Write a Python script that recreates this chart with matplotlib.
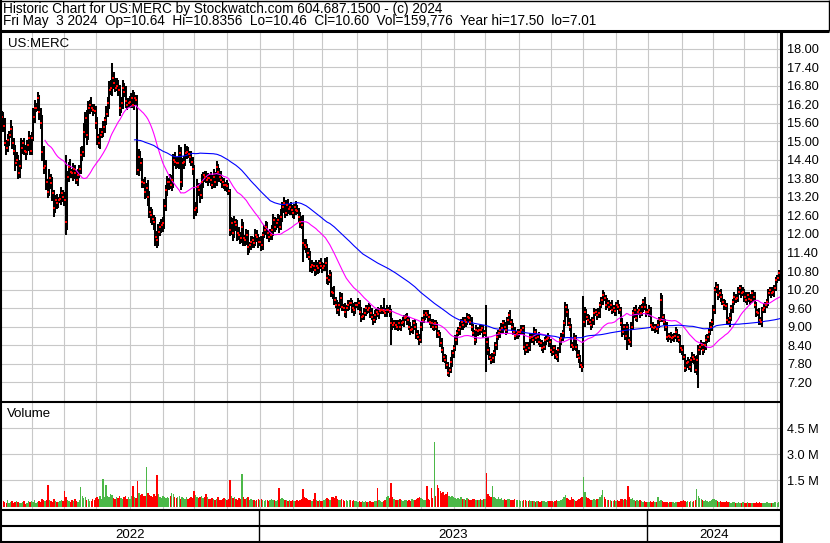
import matplotlib
matplotlib.use("Agg")
import matplotlib.pyplot as plt
import numpy as np
import pandas as pd

plt.rcParams["font.family"] = ["Liberation Sans", "DejaVu Sans"]

# daily closes, one line per month, 2022-05-04 .. 2024-05-03
closes = [
    15.80, 15.50, 14.95, 14.80, 15.05, 15.20, 15.40, 14.95, 14.70, 14.30, 14.40, 13.98, 14.20, 14.80, 14.95, 14.70, 14.66, 14.90, 15.10, 14.70,
    15.10, 15.80, 16.10, 16.10, 16.40, 15.95, 15.60, 14.66, 14.14, 14.20, 13.68, 13.37, 13.80, 13.65, 13.33, 12.84, 13.10, 13.00, 13.10, 13.15, 13.33, 13.20,
    13.10, 12.39, 13.85, 14.17, 14.00, 13.98, 14.10, 13.98, 13.76, 13.90, 14.10, 14.56, 14.66, 15.30, 15.76, 15.20, 16.10, 16.18, 16.10, 16.02, 16.00,
    15.60, 15.15, 14.95, 15.20, 15.30, 15.47, 15.70, 15.90, 16.25, 16.67, 16.74, 17.06, 16.90, 16.74, 16.80, 16.67, 16.09, 16.25, 16.74, 16.60, 16.30, 16.18, 16.25,
    16.28, 16.41, 16.18, 16.40, 16.35, 14.08, 14.50, 14.30, 13.68, 13.65, 13.37, 13.50, 13.20, 12.72, 12.60, 12.50, 12.39, 11.90, 11.80, 12.07, 12.23, 12.30,
    12.36, 12.90, 13.43, 13.68, 13.70, 13.60, 13.75, 14.40, 14.35, 14.30, 14.30, 14.63, 13.68, 14.30, 14.34, 14.63, 14.66, 14.60, 14.50, 14.34, 14.10,
    12.78, 12.84, 13.52, 13.43, 13.27, 13.68, 13.90, 13.85, 13.76, 13.82, 13.80, 13.76, 13.60, 13.85, 13.70, 14.17, 14.00, 13.85, 13.76, 13.68, 13.60, 13.60,
    13.55, 13.40, 12.13, 12.36, 12.03, 12.39, 12.30, 12.03, 11.97, 11.87, 12.23, 11.87, 11.80, 11.97, 11.58, 11.64, 11.75, 11.80, 11.70, 11.97, 11.90, 11.75,
    11.75, 11.64, 11.97, 12.13, 12.23, 12.03, 11.90, 11.97, 12.13, 12.45, 12.23, 12.36, 12.45, 12.23, 12.55, 12.88, 13.00, 12.68, 12.94, 12.80, 12.88, 12.78,
    12.68, 12.88, 12.78, 12.75, 12.55, 12.39, 12.30, 11.70, 11.64, 11.58, 11.38, 11.26, 10.93, 11.00, 10.95, 10.83, 10.95, 10.90, 11.06, 10.95,
    10.90, 10.95, 11.06, 10.57, 10.51, 10.67, 10.12, 10.10, 9.86, 9.70, 9.54, 9.70, 9.93, 9.64, 9.60, 9.47, 9.60, 9.70, 9.77, 9.75, 9.60, 9.54, 9.70,
    9.70, 9.77, 9.47, 9.31, 9.35, 9.44, 9.60, 9.55, 9.60, 9.44, 9.31, 9.21, 9.37, 9.47, 9.40, 9.50, 9.54, 9.54, 9.50, 9.45,
    9.54, 9.54, 9.47, 9.12, 9.05, 9.10, 9.05, 9.00, 9.10, 8.99, 9.12, 9.15, 9.28, 9.30, 9.20, 9.00, 8.89, 8.92, 9.10, 9.00, 8.75, 8.66, 8.56,
    8.99, 9.21, 9.37, 9.44, 9.37, 9.30, 9.15, 9.10, 8.99, 9.12, 8.99, 8.79, 8.72, 8.47, 8.24, 8.00, 7.92, 7.76, 7.50, 7.60, 7.85, 8.14,
    8.30, 8.56, 8.79, 8.89, 8.99, 9.15, 9.05, 9.21, 9.15, 9.30, 9.28, 9.15, 8.99, 8.79, 8.56, 8.89, 8.85, 8.90, 8.89, 8.95, 8.79,
    8.79, 8.50, 8.24, 8.01, 7.92, 7.98, 8.14, 8.40, 8.66, 8.79, 8.89, 8.95, 9.12, 9.00, 8.89, 9.21, 9.37, 9.15, 9.00, 8.82, 8.70, 8.75, 8.82,
    8.82, 8.89, 8.95, 8.34, 8.24, 8.40, 8.30, 8.63, 8.66, 8.56, 8.82, 8.63, 8.66, 8.50, 8.47, 8.30, 8.34, 8.56, 8.60, 8.63, 8.50,
    8.24, 8.18, 8.30, 8.08, 8.01, 8.24, 8.56, 8.63, 8.79, 9.12, 9.63, 9.47, 9.12, 8.99, 8.40, 8.34, 8.63, 8.34, 8.08, 7.98, 7.75, 7.69,
    9.15, 9.47, 9.31, 9.21, 9.15, 9.05, 9.21, 9.44, 9.47, 9.37, 9.44, 9.70, 9.86, 10.02, 9.93, 9.70, 9.77, 9.64, 9.70, 9.54, 9.60, 9.50,
    9.70, 9.63, 9.54, 9.12, 8.82, 8.99, 8.70, 8.99, 8.56, 8.50, 8.99, 9.44, 9.54, 9.28, 9.47, 9.54, 9.44, 9.63, 9.80, 9.63, 9.47,
    9.47, 9.54, 9.05, 9.00, 8.95, 8.99, 8.92, 9.05, 9.20, 9.86, 9.30, 9.15, 8.99, 8.66, 8.70, 8.66, 8.63, 8.66, 8.70, 8.82, 8.66, 8.56, 8.30,
    8.24, 8.01, 7.66, 7.82, 7.85, 7.69, 7.92, 8.01, 7.95, 7.59, 7.92, 8.24, 8.34, 8.40, 8.24, 8.40, 8.56, 8.66, 8.82, 8.99, 9.15,
    9.54, 10.18, 10.28, 10.02, 10.08, 9.96, 9.80, 9.70, 9.65, 9.21, 9.15, 9.28, 9.60, 9.80, 9.96, 9.90, 9.93, 10.12, 10.25, 10.08, 10.12,
    9.96, 9.86, 10.02, 9.90, 9.86, 10.08, 9.96, 9.70, 9.47, 9.44, 9.21, 9.15, 9.54, 9.60, 9.70, 9.80, 10.08, 10.18, 10.08, 10.12, 10.25, 10.51,
    10.57, 10.75, 10.60,
]

# how far (cents) each bar reaches above max(open, close) and below min(open, close)
wick_up = [
    20, 15, 25, 10, 20, 15, 30, 10, 15, 20, 25, 15, 20, 30, 10, 15, 20, 15, 25, 10,
    20, 30, 25, 15, 20, 10, 15, 25, 20, 15, 20, 10, 30, 15, 20, 10, 15, 20, 10, 15, 20, 10,
    15, 146, 20, 15, 25, 10, 20, 15, 10, 20, 15, 25, 20, 30, 20, 25, 20, 15, 25, 10, 20,
    15, 20, 10, 25, 15, 20, 10, 25, 20, 30, 25, 49, 20, 15, 25, 20, 15, 20, 25, 15, 20, 10, 15,
    20, 15, 25, 20, 10, 15, 25, 20, 15, 10, 20, 15, 25, 20, 15, 20, 10, 15, 20, 25, 15, 20,
    20, 25, 15, 20, 10, 25, 15, 20, 25, 15, 20, 25, 20, 15, 20, 30, 20, 15, 10, 20, 15,
    15, 20, 25, 15, 20, 25, 10, 15, 20, 15, 10, 20, 15, 25, 15, 20, 10, 15, 20, 10, 15, 10,
    15, 10, 5, 20, 15, 20, 10, 15, 20, 10, 25, 15, 10, 20, 15, 10, 20, 15, 10, 20, 15, 10,
    15, 20, 10, 15, 20, 15, 10, 20, 15, 20, 10, 15, 20, 15, 25, 15, 20, 10, 15, 20, 10, 15,
    15, 10, 20, 15, 10, 15, 20, 30, 15, 20, 10, 15, 20, 15, 10, 15, 20, 15, 10, 15,
    15, 10, 15, 20, 10, 15, 10, 15, 20, 10, 15, 10, 20, 15, 10, 15, 10, 15, 10, 15, 10, 15, 10,
    10, 15, 10, 15, 10, 15, 10, 10, 15, 10, 15, 10, 15, 10, 15, 10, 15, 10, 40, 10,
    15, 10, 15, 10, 15, 10, 10, 15, 10, 15, 10, 15, 10, 10, 15, 10, 15, 10, 10, 15, 10, 15, 10,
    15, 10, 15, 10, 10, 15, 10, 10, 15, 10, 10, 15, 10, 10, 15, 10, 10, 15, 10, 10, 15, 10,
    10, 15, 10, 10, 15, 10, 15, 10, 10, 15, 10, 10, 15, 10, 10, 15, 10, 10, 15, 10, 10,
    10, 91, 15, 10, 10, 15, 10, 10, 15, 10, 10, 15, 10, 10, 15, 10, 10, 15, 10, 10, 15, 10, 10,
    10, 15, 10, 10, 15, 10, 10, 15, 10, 10, 15, 10, 10, 15, 10, 10, 15, 10, 10, 15, 10,
    10, 15, 10, 10, 15, 10, 10, 15, 10, 10, 15, 10, 10, 15, 10, 10, 15, 10, 10, 15, 10, 10,
    85, 15, 10, 10, 15, 10, 10, 15, 10, 10, 15, 10, 10, 15, 10, 10, 15, 10, 10, 15, 10, 10,
    10, 15, 10, 10, 15, 10, 10, 15, 10, 10, 15, 10, 10, 15, 10, 10, 15, 10, 10, 15, 10,
    10, 15, 10, 10, 15, 10, 10, 15, 10, 24, 15, 10, 10, 15, 10, 10, 15, 10, 10, 15, 10, 10, 15,
    10, 15, 10, 10, 15, 10, 10, 15, 10, 10, 15, 16, 10, 15, 10, 10, 15, 10, 10, 15, 10,
    15, 10, 15, 10, 10, 15, 10, 10, 15, 10, 10, 15, 10, 10, 15, 10, 10, 15, 10, 10, 15,
    10, 15, 10, 10, 15, 10, 10, 15, 10, 10, 15, 10, 10, 15, 10, 10, 15, 10, 10, 15, 10, 10,
    10, 8, 8,
]
wick_dn = [
    15, 20, 10, 25, 15, 20, 10, 20, 15, 25, 10, 20, 15, 10, 20, 15, 25, 10, 20, 15,
    15, 10, 20, 15, 10, 25, 20, 30, 20, 15, 25, 20, 15, 20, 25, 30, 15, 20, 15, 10, 20, 15,
    20, 42, 25, 15, 20, 15, 25, 20, 15, 20, 10, 15, 20, 15, 20, 30, 15, 20, 15, 20, 10,
    20, 25, 15, 20, 10, 15, 20, 15, 10, 20, 15, 25, 20, 15, 10, 20, 25, 15, 20, 15, 20, 15, 10,
    15, 20, 10, 15, 20, 18, 20, 25, 20, 15, 25, 20, 30, 20, 25, 20, 25, 30, 25, 20, 15, 20,
    25, 20, 15, 20, 25, 15, 20, 25, 15, 20, 15, 20, 25, 15, 20, 15, 20, 15, 20, 15, 20,
    30, 20, 15, 20, 25, 15, 20, 15, 10, 20, 15, 20, 15, 10, 20, 15, 20, 15, 10, 20, 15, 20,
    20, 15, 20, 15, 25, 15, 20, 25, 15, 20, 15, 25, 20, 15, 25, 20, 15, 20, 15, 10, 15, 20,
    15, 20, 15, 10, 15, 20, 15, 10, 15, 20, 15, 10, 15, 20, 10, 15, 20, 15, 10, 15, 20, 15,
    15, 20, 15, 10, 15, 20, 15, 60, 15, 20, 15, 10, 15, 20, 15, 20, 15, 20, 15, 10,
    15, 10, 15, 20, 15, 10, 15, 20, 15, 10, 15, 20, 10, 15, 10, 15, 20, 10, 15, 10, 15, 20, 15,
    10, 15, 10, 15, 10, 15, 10, 15, 10, 15, 10, 15, 10, 15, 10, 15, 10, 15, 10, 15,
    15, 10, 15, 72, 15, 10, 15, 10, 15, 10, 15, 10, 15, 10, 15, 10, 15, 10, 15, 10, 15, 10, 15,
    10, 15, 10, 15, 10, 15, 10, 15, 10, 15, 10, 15, 10, 15, 10, 15, 10, 15, 10, 15, 10, 15,
    15, 10, 15, 10, 15, 10, 15, 10, 15, 10, 15, 10, 15, 10, 15, 10, 15, 10, 15, 10, 15,
    10, 97, 15, 10, 15, 10, 15, 10, 15, 10, 15, 10, 15, 10, 15, 10, 15, 10, 15, 10, 15, 10, 15,
    15, 10, 15, 10, 15, 10, 15, 10, 15, 10, 15, 10, 15, 10, 15, 10, 15, 10, 15, 10, 15,
    10, 15, 10, 15, 10, 15, 10, 15, 10, 15, 10, 15, 10, 15, 10, 15, 10, 15, 10, 15, 10, 15,
    3, 15, 10, 15, 10, 15, 10, 15, 10, 15, 10, 15, 10, 15, 10, 15, 10, 15, 10, 15, 10, 15,
    15, 10, 15, 10, 15, 10, 15, 46, 15, 10, 15, 10, 15, 10, 15, 10, 15, 10, 15, 10, 15,
    10, 15, 10, 15, 10, 15, 10, 15, 10, 5, 15, 10, 15, 10, 15, 10, 15, 10, 15, 10, 15, 10, 15,
    15, 10, 15, 10, 15, 10, 15, 10, 15, 10, 15, 91, 15, 10, 15, 10, 15, 10, 15, 10, 15,
    10, 15, 10, 15, 10, 15, 10, 15, 10, 15, 10, 15, 10, 15, 10, 15, 10, 15, 10, 15, 10,
    15, 10, 15, 10, 15, 10, 15, 10, 15, 10, 15, 10, 15, 10, 15, 10, 15, 10, 15, 10, 15, 10,
    10, 10, 14,
]

# daily volume, thousands of shares
volume_k = [
    260, 310, 240, 180, 350, 220, 280, 300, 190, 240, 330, 270, 200, 180, 250, 310, 160, 220, 290, 240,
    300, 260, 380, 210, 250, 330, 280, 450, 360, 290, 400, 1250, 380, 300, 260, 420, 330, 280, 240, 310, 360, 290,
    870, 520, 380, 300, 260, 350, 290, 420, 330, 280, 360, 1100, 600, 480, 520, 390, 450, 340, 300, 420, 380,
    480, 520, 430, 610, 450, 1600, 560, 1250, 620, 540, 700, 650, 480, 420, 560, 510, 620, 480, 450, 530, 580, 440, 520,
    460, 600, 1150, 520, 480, 1450, 800, 650, 700, 580, 620, 2250, 760, 680, 620, 540, 700, 620, 1800, 740, 560, 500,
    620, 540, 480, 560, 500, 620, 750, 700, 560, 480, 520, 600, 450, 540, 500, 460, 520, 430, 480, 560, 510,
    900, 640, 560, 480, 520, 600, 480, 540, 700, 520, 460, 440, 500, 420, 380, 460, 520, 400, 360, 440, 480, 420,
    380, 420, 1500, 620, 480, 560, 420, 380, 500, 460, 1850, 560, 420, 480, 520, 380, 440, 360, 400, 340, 380, 420,
    360, 420, 380, 320, 400, 350, 300, 380, 440, 400, 360, 320, 380, 1050, 420, 480, 440, 360, 400, 340, 380, 320,
    360, 300, 340, 380, 320, 360, 420, 1000, 560, 480, 420, 380, 360, 340, 420, 750, 380, 320, 360, 300,
    340, 380, 420, 500, 460, 380, 560, 520, 480, 600, 440, 400, 380, 420, 360, 340, 380, 320, 400, 360, 340, 380, 300,
    300, 260, 340, 280, 320, 260, 300, 280, 240, 320, 280, 260, 300, 340, 1050, 380, 300, 280, 320, 400,
    520, 620, 480, 1350, 560, 420, 380, 400, 360, 420, 380, 340, 400, 360, 320, 380, 340, 420, 380, 360, 440, 480, 520,
    480, 420, 380, 360, 1150, 420, 380, 1050, 480, 3700, 620, 1250, 1050, 900, 760, 820, 640, 700, 860, 620, 540, 600,
    520, 480, 440, 500, 460, 520, 420, 460, 400, 480, 440, 400, 380, 440, 420, 380, 360, 400, 420, 380, 440,
    460, 1900, 720, 620, 540, 1150, 560, 480, 440, 520, 420, 480, 400, 440, 380, 420, 460, 400, 380, 360, 420, 380, 400,
    360, 320, 340, 400, 380, 340, 300, 360, 320, 300, 340, 280, 320, 300, 280, 320, 340, 300, 280, 320, 300,
    300, 340, 280, 320, 360, 300, 340, 380, 420, 560, 640, 480, 420, 380, 560, 440, 380, 340, 360, 420, 480, 520,
    1700, 820, 560, 480, 420, 380, 400, 440, 380, 420, 460, 520, 640, 950, 540, 440, 380, 360, 400, 340, 320, 360,
    340, 380, 320, 420, 460, 380, 440, 400, 1200, 520, 440, 480, 380, 340, 400, 320, 360, 300, 280, 320, 260,
    240, 280, 320, 260, 300, 240, 280, 550, 320, 380, 300, 260, 280, 240, 220, 260, 240, 280, 220, 260, 240, 280, 320,
    300, 380, 340, 280, 320, 260, 300, 280, 340, 360, 1000, 620, 480, 420, 380, 340, 360, 300, 280, 320, 380,
    460, 420, 380, 320, 280, 300, 260, 240, 280, 300, 260, 240, 220, 260, 240, 200, 220, 240, 200, 220, 240,
    220, 200, 240, 180, 220, 200, 180, 220, 240, 200, 260, 220, 180, 200, 220, 240, 200, 180, 220, 200, 240, 260,
    220, 260, 160,
]

header_1 = "Historic Chart for US:MERC by Stockwatch.com 604.687.1500 - (c) 2024"
header_2 = "Fri May  3 2024  Op=10.64  Hi=10.8356  Lo=10.46  Cl=10.60  Vol=159,776  Year hi=17.50  lo=7.01"
price_ticks = np.arange(7.2, 18.01, 0.6)
vol_ticks = [1.5, 3.0, 4.5]

W, H = 830, 543
GRID = "#c8c8c8"
GREEN = "#4cb848"


def rect(x0, y0, x1, y1):
    """Pixel box (top-left origin) -> figure fraction rect."""
    return [x0 / W, 1 - y1 / H, (x1 - x0) / W, (y1 - y0) / H]


df = pd.DataFrame({"close": closes, "vol": np.array(volume_k) / 1000.0},
                  index=pd.bdate_range(end="2024-05-03", periods=len(closes)))
df["open"] = df["close"].shift(1).fillna(df["close"])
df["high"] = df[["open", "close"]].max(axis=1) + np.array(wick_up) / 100.0
df["low"] = df[["open", "close"]].min(axis=1) - np.array(wick_dn) / 100.0
df["ma30"] = df["close"].rolling(30).mean()
df["ma90"] = df["close"].rolling(90).mean()

n = len(df)
x = np.arange(n)
months = df.index.month
month_starts = [i for i in range(1, n) if months[i] != months[i - 1]]
years = df.index.year
year_starts = [i for i in range(1, n) if years[i] != years[i - 1]]

fig = plt.figure(figsize=(W / 100, H / 100), dpi=100)
fig.patch.set_facecolor("white")

ax_p = fig.add_axes(rect(1, 32, 781, 401))
ax_v = fig.add_axes(rect(1, 402, 781, 510))

for ax in (ax_p, ax_v):
    ax.set_xlim(-0.5, n - 0.5)
    for s in ax.spines.values():
        s.set_visible(False)
    ax.set_xticks(month_starts)
    ax.tick_params(axis="x", length=0, labelbottom=False)
    ax.yaxis.tick_right()
    ax.tick_params(axis="y", length=0, pad=4.5, labelsize=9.2)
    ax.grid(True, color=GRID, linewidth=0.8)
    ax.set_axisbelow(True)

# price panel
ax_p.set_ylim(6.584, 18.551)
ax_p.set_yticks(price_ticks)
ax_p.set_yticklabels([f"{t:.2f}" for t in price_ticks])
ax_p.vlines(x, df["low"], df["high"], color="black", linewidth=1.45, zorder=3)
ax_p.plot(x, df["ma30"], color="#ff00ff", linewidth=0.8, zorder=4)
ax_p.plot(x, df["ma90"], color="#0000ff", linewidth=0.8, zorder=4)
ax_p.scatter(x + 0.3, df["close"], marker="s", s=1.0, color="red", linewidths=0, zorder=5)
ax_p.text(0.009, 0.968, "US:MERC", transform=ax_p.transAxes, fontsize=9.5, va="center", ha="left")

# volume panel
up = df["close"] >= df["open"]
ax_v.set_ylim(-0.2, 6.0)
ax_v.set_yticks(vol_ticks)
ax_v.set_yticklabels([f"{t:.1f} M" for t in vol_ticks])
ax_v.bar(x, df["vol"], width=0.95, color=np.where(up, GREEN, "red"), linewidth=0, zorder=3)
ax_v.text(0.008, 0.89, "Volume", transform=ax_v.transAxes, fontsize=9.5, va="center", ha="left")

# frame, header and year band in pixel coordinates
ov = fig.add_axes([0, 0, 1, 1], facecolor="none")
ov.set_xlim(0, W)
ov.set_ylim(H, 0)
ov.axis("off")


def hline(y, x0, x1, lw):
    ov.plot([x0, x1], [y, y], color="black", linewidth=lw, solid_capstyle="butt")


def vline(xp, y0, y1, lw):
    ov.plot([xp, xp], [y0, y1], color="black", linewidth=lw, solid_capstyle="butt")


hline(0.5, 0, 829, 1.0)
vline(828.5, 0, 31, 1.0)
hline(31, 0, 829, 2.2)
vline(1, 0, 543, 1.5)
vline(781, 31, 543, 2.2)
hline(401.5, 0, 781, 1.5)
hline(510, 0, 781, 1.5)
hline(526, 0, 781, 1.5)
hline(542, 0, 781, 1.5)

ov.text(3, 8.5, header_1, fontsize=9.8, va="center", ha="left")
ov.text(3, 21.5, header_2, fontsize=9.8, va="center", ha="left")

px_per_bar = 780.0 / n
bounds = [0] + year_starts + [n]
for b in year_starts:
    vline(1 + b * px_per_bar, 510, 542, 1.0)
for a, b in zip(bounds[:-1], bounds[1:]):
    xc = 1 + (a + b) / 2 * px_per_bar
    ov.text(xc, 534.5, str(df.index[a].year), fontsize=9.5, va="center", ha="center")

fig.savefig("out.png", dpi=100)
